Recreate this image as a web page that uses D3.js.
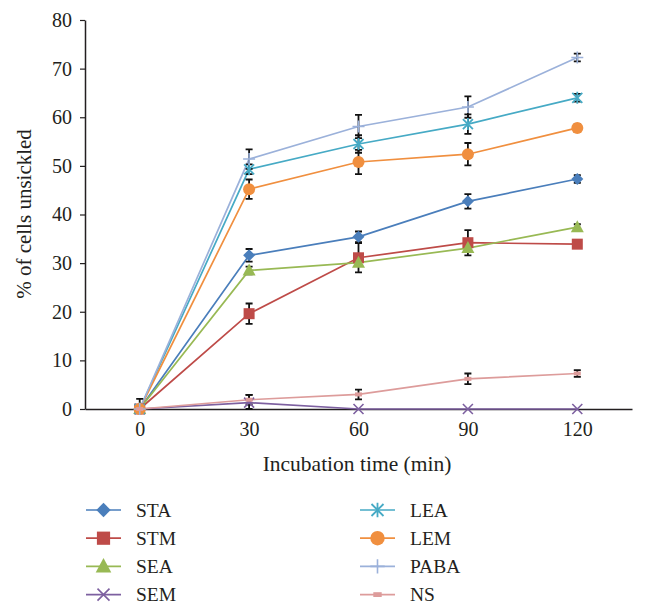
<!DOCTYPE html>
<html>
<head>
<meta charset="utf-8">
<script src="https://cdn.jsdelivr.net/npm/d3@7"></script>
<style>
  body { margin: 0; background: #fff; }
  text { font-family: "Liberation Serif", "Times New Roman", serif; fill: #231f20; }
</style>
</head>
<body>
<svg id="chart" width="646" height="615"></svg>
<script>
// ---- data ----
const categories = ["0", "30", "60", "90", "120"];
const yTicks = [0, 10, 20, 30, 40, 50, 60, 70, 80];
const seriesNames = ["STA", "STM", "SEA", "SEM", "LEA", "LEM", "PABA", "NS"];
const STA  = [0, 31.6, 35.4, 42.7, 47.3];
const STM  = [0, 19.6, 31.1, 34.2, 33.9];
const SEA  = [0, 28.5, 30.1, 33.1, 37.4];
const SEM  = [0, 1.3, 0, 0, 0];
const LEA  = [0, 49.3, 54.5, 58.6, 64.0];
const LEM  = [0, 45.2, 50.8, 52.4, 57.8];
const PABA = [0, 51.4, 58.1, 62.1, 72.3];
const NS   = [0, 1.9, 3.0, 6.2, 7.3];
const STA_err  = [0, 1.3, 1.1, 1.5, 0.8];
const STM_err  = [0, 2.1, 3.0, 2.6, 0.6];
const SEA_err  = [0, 0.8, 0.7, 0.8, 0.6];
const SEM_err  = [0, 1.6, 0, 0, 0];
const LEA_err  = [0, 1.0, 1.8, 2.0, 0.8];
const LEM_err  = [0, 2.0, 2.5, 2.3, 0.8];
const PABA_err = [0, 2.0, 2.4, 2.2, 0.8];
const NS_err   = [2.1, 1.0, 1.0, 1.1, 0.7];

const values = [STA, STM, SEA, SEM, LEA, LEM, PABA, NS];
const errors = [STA_err, STM_err, SEA_err, SEM_err, LEA_err, LEM_err, PABA_err, NS_err];
const colors = ["#4a7ebb", "#be4b48", "#98b954", "#7d60a0", "#46aac5", "#f08f3f", "#9bb1da", "#dd9c9b"];
const markers = ["diamond", "square", "triangle", "x", "asterisk", "circle", "plus", "dash"];

const svg = d3.select("#chart");
const x = d3.scalePoint().domain(categories).range([85, 632]).padding(0.5);
const y = d3.scaleLinear().domain([0, 80]).range([409, 20]);
const FONT = "'Liberation Serif', 'Times New Roman', serif";

// axes
const yAxis = svg.append("g").attr("transform", "translate(85,0)")
  .call(d3.axisLeft(y).tickValues(yTicks).tickSizeInner(5).tickSizeOuter(0).tickPadding(8));
yAxis.attr("font-family", FONT).attr("font-size", 20);
yAxis.selectAll("text").attr("font-size", 20).attr("fill", "#231f20");
yAxis.select(".domain").attr("stroke", "#231f20").attr("stroke-width", 1.5);
yAxis.selectAll(".tick line").attr("stroke", "#231f20").attr("stroke-width", 1.2);

const xAxis = svg.append("g").attr("transform", "translate(0,409)")
  .call(d3.axisBottom(x).tickSizeInner(0).tickSizeOuter(0).tickPadding(13));
xAxis.attr("font-family", FONT).attr("font-size", 20);
xAxis.selectAll("text").attr("font-size", 20).attr("fill", "#231f20");
xAxis.select(".domain").attr("stroke", "#231f20").attr("stroke-width", 1.5);

// axis titles
svg.append("text").attr("transform", "translate(31,214) rotate(-90)")
  .attr("text-anchor", "middle").attr("font-size", 21).text("% of cells unsickled");
svg.append("text").attr("x", 357).attr("y", 471)
  .attr("text-anchor", "middle").attr("font-size", 21.5).text("Incubation time (min)");

function drawMarker(g, type, color, cx, cy, k = 1) {
  const a = 6 * k, b = 5.5 * k, c = 5 * k;
  switch (type) {
    case "diamond":
      g.append("path").attr("d", `M${cx},${cy-a}L${cx+a},${cy}L${cx},${cy+a}L${cx-a},${cy}Z`).attr("fill", color); break;
    case "square":
      g.append("rect").attr("x", cx-b).attr("y", cy-b).attr("width", 2*b).attr("height", 2*b).attr("fill", color); break;
    case "triangle":
      g.append("path").attr("d", `M${cx},${cy-7*k}L${cx+6.5*k},${cy+5*k}L${cx-6.5*k},${cy+5*k}Z`).attr("fill", color); break;
    case "x":
      g.append("path").attr("d", `M${cx-c},${cy-c}L${cx+c},${cy+c}M${cx-c},${cy+c}L${cx+c},${cy-c}`).attr("stroke", color).attr("stroke-width", 1.6); break;
    case "asterisk":
      g.append("path").attr("d", `M${cx-c},${cy-c}L${cx+c},${cy+c}M${cx-c},${cy+c}L${cx+c},${cy-c}M${cx},${cy-a}L${cx},${cy+a}`).attr("stroke", color).attr("stroke-width", 1.8); break;
    case "circle":
      g.append("circle").attr("cx", cx).attr("cy", cy).attr("r", a).attr("fill", color); break;
    case "plus":
      g.append("path").attr("d", `M${cx-a},${cy}L${cx+a},${cy}M${cx},${cy-a}L${cx},${cy+a}`).attr("stroke", color).attr("stroke-width", 1.6); break;
    case "dash":
      g.append("rect").attr("x", cx-3.5*k).attr("y", cy-2*k).attr("width", 7*k).attr("height", 4*k).attr("fill", color); break;
  }
}

const line = d3.line().x((d, i) => x(categories[i])).y(d => y(d));
const plot = svg.append("g");
// lines
values.forEach((vals, s) => {
  plot.append("path").datum(vals).attr("d", line)
    .attr("fill", "none").attr("stroke", colors[s]).attr("stroke-width", 1.7);
});
// error bars
values.forEach((vals, s) => {
  vals.forEach((v, i) => {
    const e = errors[s][i];
    if (!e) return;
    const cx = x(categories[i]);
    const y1 = y(v + e), y0 = y(Math.max(0, v - e));
    plot.append("path")
      .attr("d", `M${cx},${y1}L${cx},${y0}M${cx-3.5},${y1}L${cx+3.5},${y1}M${cx-3.5},${y0}L${cx+3.5},${y0}`)
      .attr("stroke", "#111").attr("stroke-width", 1.8).attr("fill", "none");
  });
});
// markers
values.forEach((vals, s) => {
  const g = plot.append("g");
  vals.forEach((v, i) => drawMarker(g, markers[s], colors[s], x(categories[i]), y(v)));
});

// legend
const legend = svg.append("g");
seriesNames.forEach((name, s) => {
  const col = Math.floor(s / 4), row = s % 4;
  const lx = col === 0 ? 86 : 360;
  const ly = 510 + row * 28.2;
  const g = legend.append("g");
  g.append("line").attr("x1", lx).attr("x2", lx + 35).attr("y1", ly).attr("y2", ly)
    .attr("stroke", colors[s]).attr("stroke-width", 1.7);
  drawMarker(g, markers[s], colors[s], lx + 17.5, ly, 1.2);
  g.append("text").attr("x", lx + 50).attr("y", ly).attr("dy", "0.35em")
    .attr("font-size", 19.5).text(name);
});
</script>
</body>
</html>
